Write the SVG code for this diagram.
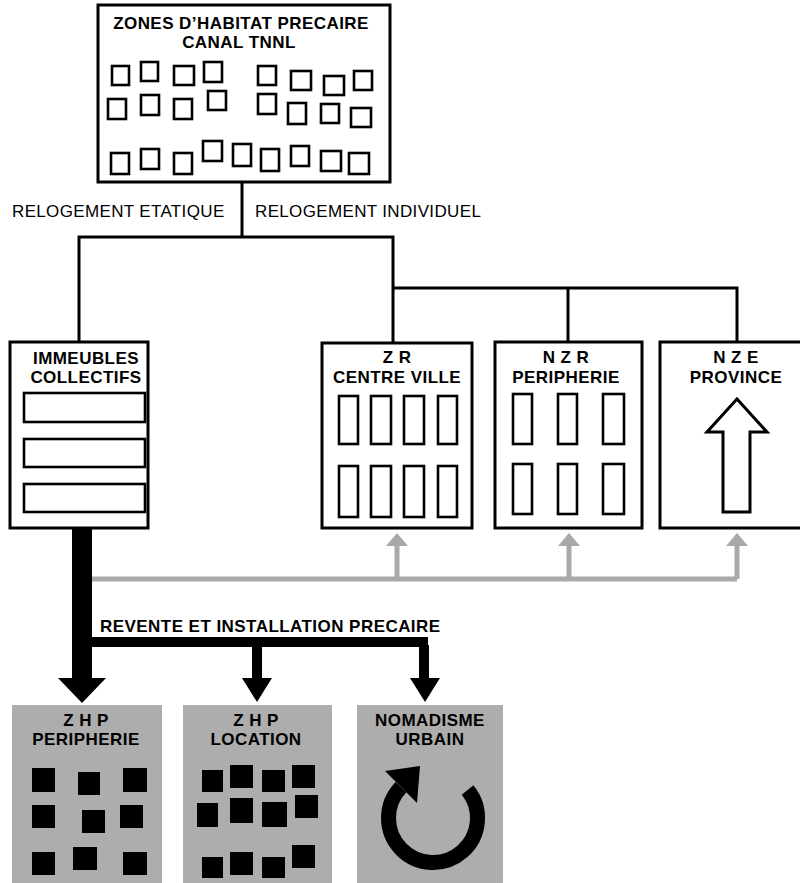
<svg xmlns="http://www.w3.org/2000/svg" width="800" height="883" viewBox="0 0 800 883">
  <style>
    .box { fill: #fff; stroke: #000; stroke-width: 3; }
    .win { fill: none; stroke: #000; stroke-width: 2.6; }
    .lbl { font-family: "Liberation Sans", Arial, sans-serif; font-weight: bold; font-size: 17px; letter-spacing: 0.45px; text-anchor: middle; fill: #000; }
    .rel { font-family: "Liberation Sans", Arial, sans-serif; font-size: 17px; letter-spacing: 0.35px; fill: #000; }
    .link { fill: none; stroke: #000; stroke-width: 3; }
    .grey { fill: none; stroke: #a9a9a9; stroke-width: 5; }
    .greyhead { fill: #a9a9a9; }
    .zhp { fill: #adadad; }
    .blk { fill: #000; }
  </style>

  <rect width="800" height="883" fill="#fff"/>

  <!-- connectors -->
  <g id="connectors">
    <!-- relocation tree -->
    <polyline class="link" points="242,182 242,237"/>
    <polyline class="link" points="79,342 79,237 393,237 393,343"/>
    <polyline class="link" points="393,288 737,288 737,342"/>
    <polyline class="link" points="568,288 568,342"/>

    <!-- grey return arrows -->
    <polyline class="grey" points="82,579 737,579"/>
    <polyline class="grey" points="397,579 397,544"/>
    <polyline class="grey" points="569,579 569,544"/>
    <polyline class="grey" points="737,579 737,544"/>
    <polygon class="greyhead" points="386,546 397,533 408,546"/>
    <polygon class="greyhead" points="558,546 569,533 580,546"/>
    <polygon class="greyhead" points="726,546 737,533 748,546"/>

    <!-- resale arrows -->
    <polygon class="blk" points="72,528 92,528 92,678 106,678 82,703 58,678 72,678"/>
    <rect class="blk" x="90" y="637" width="338" height="10"/>
    <polygon class="blk" points="252,645 262,645 262,678 272,678 257,702 242,678 252,678"/>
    <polygon class="blk" points="419,645 429,645 429,678 440,678 425,702 410,678 419,678"/>

    <text class="rel" x="12" y="217">RELOGEMENT ETATIQUE</text>
    <text class="rel" x="255" y="217">RELOGEMENT INDIVIDUEL</text>
    <text class="lbl" x="100" y="632" style="text-anchor:start">REVENTE ET INSTALLATION PRECAIRE</text>
  </g>

  <!-- informal housing along the canal -->
  <g id="zones-habitat">
    <rect class="box" x="98" y="5" width="292" height="177"/>
    <text class="lbl" x="241" y="29">ZONES D’HABITAT PRECAIRE</text>
    <text class="lbl" x="239" y="48">CANAL TNNL</text>
    <rect class="win" x="112" y="66" width="17" height="19"/>
    <rect class="win" x="141" y="62" width="17" height="19"/>
    <rect class="win" x="174" y="66" width="20" height="19"/>
    <rect class="win" x="204" y="62" width="18" height="20"/>
    <rect class="win" x="258" y="66" width="18" height="19"/>
    <rect class="win" x="291" y="71" width="20" height="19"/>
    <rect class="win" x="324" y="76" width="20" height="19"/>
    <rect class="win" x="354" y="71" width="18" height="19"/>
    <rect class="win" x="108" y="99" width="18" height="20"/>
    <rect class="win" x="141" y="95" width="18" height="20"/>
    <rect class="win" x="174" y="99" width="18" height="20"/>
    <rect class="win" x="208" y="91" width="18" height="19"/>
    <rect class="win" x="258" y="94" width="18" height="20"/>
    <rect class="win" x="288" y="103" width="18" height="21"/>
    <rect class="win" x="321" y="104" width="18" height="19"/>
    <rect class="win" x="351" y="108" width="20" height="19"/>
    <rect class="win" x="111" y="153" width="18" height="21"/>
    <rect class="win" x="141" y="149" width="18" height="20"/>
    <rect class="win" x="174" y="153" width="18" height="21"/>
    <rect class="win" x="203" y="141" width="19" height="20"/>
    <rect class="win" x="233" y="144" width="18" height="22"/>
    <rect class="win" x="261" y="149" width="18" height="22"/>
    <rect class="win" x="291" y="146" width="18" height="20"/>
    <rect class="win" x="321" y="151" width="20" height="20"/>
    <rect class="win" x="349" y="153" width="20" height="21"/>
  </g>

  <g id="immeubles-collectifs">
    <rect class="box" x="10" y="342" width="138" height="186"/>
    <text class="lbl" x="86" y="364">IMMEUBLES</text>
    <text class="lbl" x="86" y="383">COLLECTIFS</text>
    <rect class="win" x="24" y="393" width="121" height="29"/>
    <rect class="win" x="24" y="439" width="121" height="28"/>
    <rect class="win" x="24" y="484" width="121" height="28"/>
  </g>

  <g id="zr-centre-ville">
    <rect class="box" x="322" y="343" width="150" height="185"/>
    <text class="lbl" x="397" y="363">Z R</text>
    <text class="lbl" x="397" y="383">CENTRE VILLE</text>
    <rect class="win" x="339" y="396" width="19" height="48"/>
    <rect class="win" x="371" y="396" width="20" height="48"/>
    <rect class="win" x="404" y="396" width="20" height="48"/>
    <rect class="win" x="438" y="396" width="19" height="48"/>
    <rect class="win" x="339" y="466" width="19" height="51"/>
    <rect class="win" x="371" y="466" width="20" height="51"/>
    <rect class="win" x="404" y="466" width="20" height="51"/>
    <rect class="win" x="438" y="466" width="19" height="51"/>
  </g>

  <g id="nzr-peripherie">
    <rect class="box" x="495" y="342" width="147" height="186"/>
    <text class="lbl" x="566" y="363">N Z R</text>
    <text class="lbl" x="566" y="383">PERIPHERIE</text>
    <rect class="win" x="513" y="394" width="19" height="50"/>
    <rect class="win" x="558" y="394" width="19" height="50"/>
    <rect class="win" x="603" y="394" width="21" height="50"/>
    <rect class="win" x="513" y="464" width="19" height="50"/>
    <rect class="win" x="558" y="464" width="19" height="50"/>
    <rect class="win" x="603" y="464" width="21" height="50"/>
  </g>

  <g id="nze-province">
    <rect class="box" x="660" y="342" width="145" height="186"/>
    <text class="lbl" x="736" y="363">N Z E</text>
    <text class="lbl" x="736" y="383">PROVINCE</text>
    <polygon class="box" points="737,399 767,432 750,432 750,512 723,512 723,432 707,432"/>
  </g>

  <g id="zhp-peripherie">
    <rect class="zhp" x="12" y="705" width="150" height="180"/>
    <text class="lbl" x="86" y="726">Z H P</text>
    <text class="lbl" x="86" y="745">PERIPHERIE</text>
    <rect class="blk" x="32" y="768" width="23" height="24"/>
    <rect class="blk" x="78" y="772" width="22" height="23"/>
    <rect class="blk" x="123" y="768" width="24" height="24"/>
    <rect class="blk" x="32" y="805" width="23" height="23"/>
    <rect class="blk" x="82" y="810" width="23" height="23"/>
    <rect class="blk" x="120" y="805" width="23" height="23"/>
    <rect class="blk" x="32" y="852" width="23" height="23"/>
    <rect class="blk" x="73" y="847" width="24" height="23"/>
    <rect class="blk" x="123" y="852" width="24" height="23"/>
  </g>

  <g id="zhp-location">
    <rect class="zhp" x="183" y="705" width="149" height="180"/>
    <text class="lbl" x="256" y="726">Z H P</text>
    <text class="lbl" x="256" y="745">LOCATION</text>
    <rect class="blk" x="202" y="770" width="21" height="22"/>
    <rect class="blk" x="230" y="765" width="23" height="23"/>
    <rect class="blk" x="262" y="770" width="23" height="22"/>
    <rect class="blk" x="292" y="765" width="23" height="23"/>
    <rect class="blk" x="197" y="803" width="21" height="24"/>
    <rect class="blk" x="230" y="798" width="23" height="25"/>
    <rect class="blk" x="262" y="802" width="25" height="25"/>
    <rect class="blk" x="295" y="795" width="23" height="23"/>
    <rect class="blk" x="202" y="857" width="21" height="21"/>
    <rect class="blk" x="230" y="852" width="23" height="23"/>
    <rect class="blk" x="262" y="857" width="23" height="21"/>
    <rect class="blk" x="292" y="845" width="23" height="23"/>
  </g>

  <g id="nomadisme-urbain">
    <rect class="zhp" x="357" y="705" width="146" height="180"/>
    <text class="lbl" x="430" y="726">NOMADISME</text>
    <text class="lbl" x="430" y="745">URBAIN</text>
    <path d="M 467.6 790 A 44.5 44.5 0 1 1 401 787.1" fill="none" stroke="#000" stroke-width="15"/>
    <polygon class="blk" points="385,771 420,766 417,803"/>
  </g>
</svg>
